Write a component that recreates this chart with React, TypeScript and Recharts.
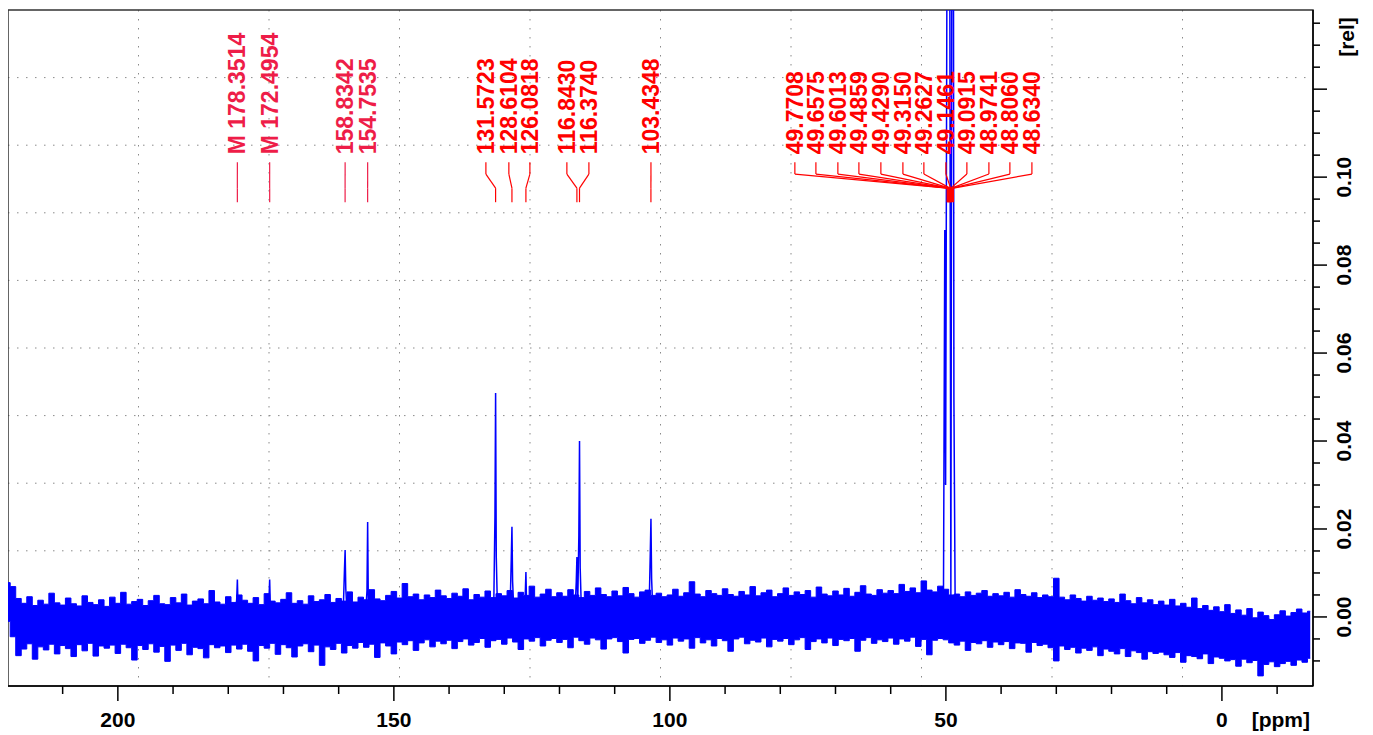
import React from 'react';
import {
  ComposedChart,
  Area,
  Line,
  Scatter,
  XAxis,
  YAxis,
  CartesianGrid,
  ReferenceLine,
  ReferenceArea,
} from 'recharts';

// axis range in ppm (reversed) and relative intensity
const X_MIN = -16.5;
const X_MAX = 219.9;
const Y_MIN = -0.0157;
const Y_MAX = 0.138;

// baseline noise envelope, one bin per ppm from 220 down to -16, in units of 0.001 rel
const noiseStart = 220;
const noiseStep = 1;
const noiseHi = [
  7.8, 6.9, 4.2, 3.1, 4.6, 2.6, 3.8, 2.9, 5.4, 3.2,
  2.7, 4.3, 3.0, 2.5, 4.8, 3.3, 2.8, 3.9, 2.4, 4.5,
  3.1, 5.6, 2.9, 3.5, 4.0, 2.6, 3.7, 4.9, 3.0, 2.8,
  4.4, 3.2, 5.2, 2.7, 3.6, 4.1, 3.0, 6.0, 3.4, 2.9,
  4.6, 3.3, 5.0, 3.8, 3.1, 4.4, 2.8, 5.3, 3.6, 3.2,
  4.0, 5.5, 3.1, 3.7, 2.9, 4.8, 3.5, 3.9, 5.1, 3.3,
  4.2, 3.6, 5.7, 3.4, 4.5, 3.9, 6.2, 4.1, 3.7, 4.9,
  5.8, 4.3, 7.6, 4.6, 5.2, 3.9, 5.0, 4.4, 6.1, 4.8,
  4.2, 5.4, 4.7, 6.4, 3.9, 5.1, 4.5, 5.9, 4.4, 5.3,
  4.8, 6.0, 4.3, 5.6, 4.9, 7.0, 4.5, 5.2, 6.3, 4.6,
  5.5, 4.7, 6.2, 5.0, 4.4, 5.8, 4.9, 6.6, 5.1, 4.6,
  5.9, 4.8, 6.7, 5.3, 4.5, 5.7, 6.1, 4.9, 5.4, 4.6,
  5.0, 6.3, 4.7, 5.5, 8.0, 5.2, 4.6, 6.0, 5.3, 4.9,
  6.4, 5.1, 4.7, 5.8, 5.0, 6.9, 4.8, 5.5, 6.1, 4.6,
  5.3, 6.6, 4.9, 5.7, 5.1, 6.0, 4.5, 6.8, 5.2, 4.8,
  5.9, 5.0, 6.5, 4.7, 5.6, 7.1, 5.2, 4.9, 6.2, 5.4,
  6.0, 5.3, 7.4, 5.8, 6.6, 5.5, 8.2, 6.1, 5.7, 7.0,
  6.3, 5.0, 5.2, 4.6, 5.7, 4.9, 5.4, 6.0, 4.7, 5.3,
  4.8, 5.6, 4.5, 6.2, 5.1, 4.7, 5.5, 4.4, 5.0, 4.6,
  8.8, 4.5, 3.9, 5.0, 4.2, 3.6, 4.7, 3.8, 4.3, 3.5,
  4.1, 3.3, 5.2, 3.7, 3.0, 4.4, 3.2, 3.9, 2.8, 3.6,
  2.7, 4.0, 2.5, 3.1, 2.2, 4.3, 1.9, 2.6, 1.5, 2.3,
  1.2, 2.8, 0.8, 1.6, 0.4, 1.9, -0.2, 1.1, 0.3, -0.6,
  0.5, 1.4, 0.2, 1.0, 1.8, 0.9, 1.3,
];
const noiseLo = [
  -1.0, -4.5, -8.8, -7.3, -6.1, -9.6, -6.8, -7.5, -6.2, -8.4,
  -6.5, -7.2, -9.0, -6.3, -7.7, -6.0, -8.9, -6.6, -7.1, -6.4,
  -8.3, -6.2, -7.0, -9.8, -6.5, -7.4, -6.1, -8.0, -6.7, -10.1,
  -6.4, -7.6, -6.0, -8.6, -6.9, -7.2, -9.3, -6.3, -7.0, -6.6,
  -8.1, -6.4, -7.3, -6.2, -7.8, -10.0, -6.5, -7.1, -6.0, -8.5,
  -6.3, -7.0, -9.1, -6.6, -6.1, -7.9, -6.4, -11.0, -6.8, -7.4,
  -6.0, -8.2, -6.5, -7.1, -5.8, -6.9, -6.2, -9.2, -5.9, -6.6,
  -8.4, -5.7, -6.3, -5.4, -7.6, -5.9, -5.2, -6.8, -5.5, -6.1,
  -5.3, -7.2, -5.6, -5.0, -6.4, -5.8, -4.9, -6.9, -5.4, -5.1,
  -6.2, -4.8, -5.7, -7.4, -5.0, -5.5, -4.7, -6.6, -5.3, -4.9,
  -5.8, -5.1, -7.0, -4.6, -5.4, -6.2, -4.8, -5.2, -7.3, -5.0,
  -4.7, -5.6, -8.2, -5.1, -4.9, -6.0, -5.3, -4.6, -5.8, -5.2,
  -6.4, -4.8, -5.5, -5.0, -7.1, -4.7, -5.9, -5.2, -6.6, -4.9,
  -5.4, -7.8, -5.0, -4.6, -6.1, -5.3, -5.7, -4.8, -6.8, -5.1,
  -5.5, -4.9, -6.3, -5.2, -4.7, -7.4, -5.6, -5.0, -5.9, -4.8,
  -6.5, -5.1, -5.4, -4.9, -7.8, -5.3, -4.7, -6.0, -5.2, -5.6,
  -4.8, -6.2, -5.0, -5.5, -4.6, -6.7, -5.1, -8.6, -5.3, -4.9,
  -5.2, -5.9, -6.4, -5.5, -7.6, -5.8, -6.1, -5.4, -6.9, -5.7,
  -6.3, -5.6, -7.2, -5.9, -6.0, -8.0, -5.8, -6.5, -6.2, -7.0,
  -10.0, -6.6, -7.4, -6.9, -8.2, -7.1, -7.6, -6.8, -8.8, -7.3,
  -7.8, -8.4, -7.2, -9.0, -7.7, -8.1, -9.6, -7.9, -8.3, -8.0,
  -8.6, -9.2, -8.1, -10.3, -8.8, -9.0, -9.5, -8.4, -10.6, -9.1,
  -9.4, -10.0, -9.7, -11.2, -9.6, -10.4, -9.9, -13.4, -10.8, -10.2,
  -11.3, -10.6, -10.1, -11.0, -9.8, -10.3, -9.4,
];

// resolved peaks: position, top and shoulder intensity
const peakPpm = [178.35, 172.5, 158.83, 154.75, 131.57, 128.61, 126.08, 116.84, 116.37, 103.43];
const peakHeight = [0.0085, 0.0085, 0.0152, 0.0216, 0.0509, 0.0205, 0.0102, 0.0136, 0.04, 0.0223];
const peakShoulder = [0.004, 0.004, 0.0107, 0.006, 0.0227, 0.0134, 0.005, 0.008, 0.0186, 0.0145];

// solvent multiplet around 49 ppm (goes off scale)
const solventPpm = [50.45, 50.2, 50.05, 49.5, 49.1, 48.75, 48.55, 48.3];
const solventValue = [0.001, 0.088, 0.03, 0.3, 0.004, 0.3, 0.05, -0.002];

// peak picking labels
const pickPpm = [
  178.3514, 172.4954, 158.8342, 154.7535, 131.5723, 128.6104, 126.0818, 116.843, 116.374, 103.4348,
  49.7708, 49.6575, 49.6013, 49.4859, 49.429, 49.315, 49.2627, 49.1461, 49.0915, 48.9741, 48.806, 48.634,
];
const pickPrefix = ['M ', 'M ', '', '', '', '', '', '', '', '', '', '', '', '', '', '', '', '', '', '', '', ''];
const labelPpm = [
  178.35, 172.5, 158.83, 154.75, 133.33, 129.17, 125.36, 118.66, 114.67, 103.43,
  77.36, 73.55, 69.57, 65.76, 61.78, 57.79, 53.99, 50.0, 46.2, 42.21, 38.41, 34.42,
];

const xTicks = [210, 200, 190, 180, 170, 160, 150, 140, 130, 120, 110, 100, 90, 80, 70, 60, 50, 40, 30, 20, 10, 0, -10];
const xMajor = [200, 150, 100, 50, 0];
const yTicks = [
  -0.01, -0.005, 0, 0.005, 0.01, 0.015, 0.02, 0.025, 0.03, 0.035, 0.04, 0.045, 0.05, 0.055, 0.06,
  0.065, 0.07, 0.075, 0.08, 0.085, 0.09, 0.095, 0.1, 0.105, 0.11, 0.115, 0.12, 0.125, 0.13, 0.135,
];
const yMajor = [0, 0.02, 0.04, 0.06, 0.08, 0.1, 0.12];
const yLabels = ['0.00', '0.02', '0.04', '0.06', '0.08', '0.10', ''];

// connector levels (rel units)
const TEXT_BASE = 0.1052;
const LINE_TOP = 0.1034;
const KNEE_A = 0.1007;
const KNEE_B = 0.0975;
const LINE_BOTTOM = 0.0943;

const BLUE = '#0000ff';
const RED = '#ff0000';
const CRIMSON = '#ee1d48';
const FONT = '"Liberation Sans", Arial, sans-serif';

const noiseData = noiseHi.map((hi, i) => ({
  x: noiseStart - i * noiseStep,
  band: [noiseLo[i] / 1000, hi / 1000],
}));

const peakData: { x: number; y: number | null }[] = [];
peakPpm.forEach((p, i) => {
  peakData.push({ x: p + 0.35, y: 0.001 });
  peakData.push({ x: p + 0.12, y: peakShoulder[i] });
  peakData.push({ x: p, y: peakHeight[i] });
  peakData.push({ x: p - 0.12, y: peakShoulder[i] * 0.6 });
  peakData.push({ x: p - 0.35, y: 0.001 });
  peakData.push({ x: p - 0.36, y: null });
});

const solventData = solventPpm.map((p, i) => ({ x: p, y: solventValue[i] }));

const labelData = pickPpm.map((p, i) => ({
  x: labelPpm[i],
  y: TEXT_BASE,
  text: pickPrefix[i] + p.toFixed(4),
  idx: i,
}));

const XTick = (props: any) => {
  const { x, y, payload } = props;
  const major = xMajor.includes(payload.value);
  return (
    <g>
      <line x1={x} x2={x} y1={y} y2={y + (major ? 15 : 8)} stroke="#000" strokeWidth={1.5} />
      {major && (
        <text x={x} y={y + 41} textAnchor="middle" fontSize={21} fontWeight="bold" fill="#000" fontFamily={FONT}>
          {payload.value}
        </text>
      )}
    </g>
  );
};

const YTick = (props: any) => {
  const { x, y, payload } = props;
  const idx = yMajor.findIndex((m) => Math.abs(m - payload.value) < 1e-9);
  const major = idx >= 0;
  const lx = x + 31;
  return (
    <g>
      <line x1={x} x2={x + (major ? 14 : 7)} y1={y} y2={y} stroke="#000" strokeWidth={1.5} />
      {major && yLabels[idx] && (
        <text
          x={lx}
          y={y}
          transform={`rotate(-90 ${lx} ${y})`}
          textAnchor="middle"
          dominantBaseline="central"
          fontSize={21}
          fontWeight="bold"
          fill="#000"
          fontFamily={FONT}
        >
          {yLabels[idx]}
        </text>
      )}
    </g>
  );
};

const PickLabel = (props: any) => {
  const { cx, cy, payload } = props;
  return (
    <text
      x={cx}
      y={cy}
      transform={`rotate(-90 ${cx} ${cy})`}
      textAnchor="start"
      dominantBaseline="central"
      fontSize={23}
      fontWeight="bold"
      fill={payload.idx < 4 ? CRIMSON : RED}
      fontFamily={FONT}
    >
      {payload.text}
    </text>
  );
};

const gridX = ({ offset }: any) =>
  [1, 2, 3, 4, 5, 6, 7, 8, 9].map((k) => offset.left + (offset.width * k) / 10);
const gridY = ({ offset }: any) =>
  [1, 2, 3, 4, 5, 6, 7, 8, 9].map((k) => offset.top + (offset.height * k) / 10);

export default function App() {
  return (
    <div style={{ fontFamily: FONT, width: 1365, height: 727 }}>
      <ComposedChart width={1365} height={727} margin={{ top: 2, right: 0, bottom: 0, left: 0 }}>
        <CartesianGrid
          stroke="#8a8a8a"
          strokeDasharray="1.5 7.5"
          verticalCoordinatesGenerator={gridX}
          horizontalCoordinatesGenerator={gridY}
        />
        <XAxis
          dataKey="x"
          type="number"
          domain={[X_MIN, X_MAX]}
          reversed
          allowDataOverflow
          ticks={xTicks}
          interval={0}
          height={49}
          tickSize={0}
          tickMargin={0}
          tickLine={false}
          axisLine={{ stroke: '#000', strokeWidth: 1.5 }}
          tick={XTick}
          label={(p: any) => {
            const vb = p.viewBox;
            return (
              <text
                x={vb.x + vb.width - 3}
                y={vb.y + 41}
                textAnchor="end"
                fontSize={21}
                fontWeight="bold"
                fill="#000"
                fontFamily={FONT}
              >
                [ppm]
              </text>
            );
          }}
        />
        <YAxis
          orientation="right"
          type="number"
          domain={[Y_MIN, Y_MAX]}
          allowDataOverflow
          ticks={yTicks}
          interval={0}
          width={60}
          tickSize={0}
          tickMargin={0}
          tickLine={false}
          axisLine={{ stroke: '#000', strokeWidth: 1.5 }}
          tick={YTick}
          label={(p: any) => {
            const vb = p.viewBox;
            const lx = vb.x + 33;
            const ly = vb.y + 27;
            return (
              <text
                x={lx}
                y={ly}
                transform={`rotate(-90 ${lx} ${ly})`}
                textAnchor="middle"
                dominantBaseline="central"
                fontSize={21}
                fontWeight="bold"
                fill="#000"
                fontFamily={FONT}
              >
                [rel]
              </text>
            );
          }}
        />
        <ReferenceArea
          x1={X_MIN}
          x2={X_MAX}
          y1={Y_MIN}
          y2={Y_MAX}
          fill="none"
          stroke="#333"
          strokeWidth={1.5}
          ifOverflow="visible"
        />
        <Area
          data={noiseData}
          dataKey="band"
          type="step"
          stroke={BLUE}
          strokeWidth={1}
          fill={BLUE}
          fillOpacity={1}
          dot={false}
          activeDot={false}
          isAnimationActive={false}
        />
        <Line
          data={peakData}
          dataKey="y"
          type="linear"
          stroke={BLUE}
          strokeWidth={1.5}
          dot={false}
          activeDot={false}
          isAnimationActive={false}
        />
        <Line
          data={solventData}
          dataKey="y"
          type="linear"
          stroke={BLUE}
          strokeWidth={1.5}
          dot={false}
          activeDot={false}
          isAnimationActive={false}
        />
        {pickPpm.map((p, i) => {
          const color = i < 4 ? CRIMSON : RED;
          const lx = labelPpm[i];
          return [
            <ReferenceLine
              key={`a${i}`}
              segment={[{ x: lx, y: LINE_TOP }, { x: lx, y: KNEE_A }]}
              stroke={color}
              strokeWidth={1.2}
              ifOverflow="visible"
            />,
            <ReferenceLine
              key={`b${i}`}
              segment={[{ x: lx, y: KNEE_A }, { x: p, y: KNEE_B }]}
              stroke={color}
              strokeWidth={1.2}
              ifOverflow="visible"
            />,
            <ReferenceLine
              key={`c${i}`}
              segment={[{ x: p, y: KNEE_B }, { x: p, y: LINE_BOTTOM }]}
              stroke={color}
              strokeWidth={1.2}
              ifOverflow="visible"
            />,
          ];
        })}
        <Scatter data={labelData} dataKey="y" shape={PickLabel} isAnimationActive={false} />
      </ComposedChart>
    </div>
  );
}
